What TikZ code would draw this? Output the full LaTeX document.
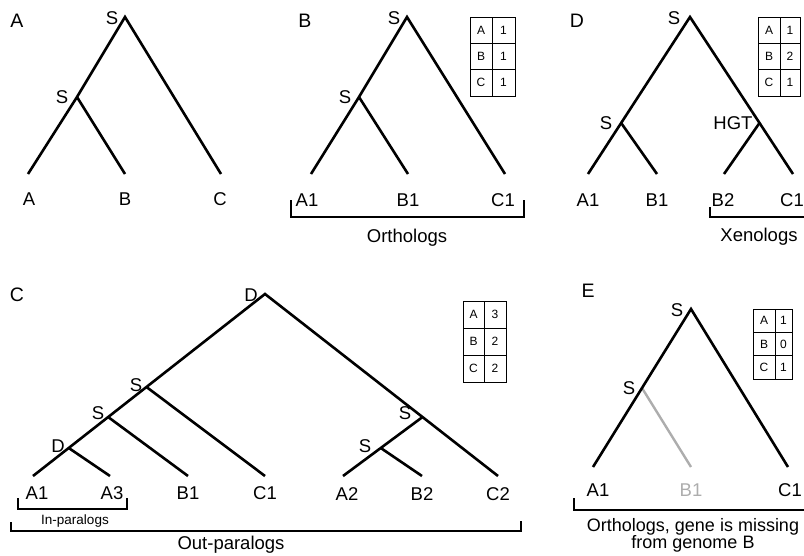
\documentclass[tikz,border=0pt]{standalone}
\usepackage{fontspec}
\setmainfont{Liberation Sans}
\usetikzlibrary{calc}
\definecolor{lostgray}{gray}{0.68}

% gene-count table: name, x0, y0, x divider, x1, y1, counts for A, B, C
\newcommand{\genecounts}[9]{%
  \draw[gridline] (#2,#3) rectangle (#5,#6);
  \draw[gridline] (#4,#3) -- (#4,#6);
  \draw[gridline] (#2,{#3+(#6-#3)/3}) -- (#5,{#3+(#6-#3)/3});
  \draw[gridline] (#2,{#3+2*(#6-#3)/3}) -- (#5,{#3+2*(#6-#3)/3});
  \node[cell] (#1-ka) at ({(#2+#4)/2},{#3+(#6-#3)/6}) {A};
  \node[cell] (#1-kb) at ({(#2+#4)/2},{#3+(#6-#3)/2}) {B};
  \node[cell] (#1-kc) at ({(#2+#4)/2},{#3+5*(#6-#3)/6}) {C};
  \node[cell] (#1-na) at ({(#4+#5)/2},{#3+(#6-#3)/6}) {#7};
  \node[cell] (#1-nb) at ({(#4+#5)/2},{#3+(#6-#3)/2}) {#8};
  \node[cell] (#1-nc) at ({(#4+#5)/2},{#3+5*(#6-#3)/6}) {#9};
}

\begin{document}
\begin{tikzpicture}[x=1pt,y=-1pt,
  branch/.style={line width=2.6pt},
  lostbranch/.style={line width=2.4pt, draw=lostgray},
  bracket/.style={line width=2.2pt},
  gridline/.style={line width=0.8pt},
  lbl/.style={font=\fontsize{18.5}{21}\selectfont, inner sep=0pt},
  panel/.style={font=\fontsize{19.5}{22}\selectfont, inner sep=0pt},
  small/.style={font=\fontsize{13.5}{16}\selectfont, inner sep=0pt},
  cell/.style={font=\fontsize{12}{14}\selectfont, inner sep=0pt}]
\useasboundingbox (0,0) rectangle (804,555);

% ---------------- panel A: species tree ----------------
\node[panel] (pA) at (17,21) {A};
\coordinate (A-r) at (125,17);
\coordinate (A-s) at (77,97);
\coordinate (A-a) at (28,174);
\coordinate (A-b) at (125,174);
\coordinate (A-c) at (221,174);
\draw[branch] (A-a) -- (A-s) -- (A-r) -- (A-c);
\draw[branch] (A-s) -- (A-b);
\node[lbl] (A-rl) at (112,18) {S};
\node[lbl] (A-sl) at (62,97) {S};
\node[lbl] (A-al) at (29,199) {A};
\node[lbl] (A-bl) at (125,199) {B};
\node[lbl] (A-cl) at (220,199) {C};

% ---------------- panel B: orthologs ----------------
\node[panel] (pB) at (305,21) {B};
\coordinate (B-r) at (407,17);
\coordinate (B-s) at (359,97);
\coordinate (B-a) at (311,174);
\coordinate (B-b) at (408,174);
\coordinate (B-c) at (505,174);
\draw[branch] (B-a) -- (B-s) -- (B-r) -- (B-c);
\draw[branch] (B-s) -- (B-b);
\node[lbl] (B-rl) at (394,18) {S};
\node[lbl] (B-sl) at (345,97) {S};
\node[lbl] (B-al) at (307,200) {A1};
\node[lbl] (B-bl) at (408,200) {B1};
\node[lbl] (B-cl) at (503,200) {C1};
\coordinate (B-k1) at (291,200);
\coordinate (B-k2) at (291,217);
\coordinate (B-k3) at (524,217);
\coordinate (B-k4) at (524,200);
\draw[bracket] (B-k1) -- (B-k2) -- (B-k3) -- (B-k4);
\node[lbl] (B-txt) at (407,238) {Orthologs};
\genecounts{B}{470}{17}{492}{515}{96}{1}{1}{1}

% ---------------- panel D: xenologs ----------------
\node[panel] (pD) at (577,21) {D};
\coordinate (D-r) at (690,17);
\coordinate (D-a) at (588,174);
\coordinate (D-c) at (793,174);
\coordinate (D-s) at ($(D-r)!0.675!(D-a)$);
\coordinate (D-h) at ($(D-r)!0.675!(D-c)$);
\coordinate (D-b1) at (657,174);
\coordinate (D-b2) at (724,174);
\draw[branch] (D-a) -- (D-r) -- (D-c);
\draw[branch] (D-s) -- (D-b1);
\draw[branch] (D-h) -- (D-b2);
\node[lbl] (D-rl) at (674,18) {S};
\node[lbl] (D-sl) at (606,123) {S};
\node[lbl] (D-hl) at (733,123) {HGT};
\node[lbl] (D-al) at (588,200) {A1};
\node[lbl] (D-b1l) at (657,200) {B1};
\node[lbl] (D-b2l) at (723,200) {B2};
\node[lbl] (D-cl) at (792,200) {C1};
\coordinate (D-k1) at (710,207);
\coordinate (D-k2) at (710,217);
\coordinate (D-k3) at (806,217);
\draw[bracket] (D-k1) -- (D-k2) -- (D-k3);
\node[lbl] (D-txt) at (759,237) {Xenologs};
\genecounts{D}{758}{17}{780}{800}{96}{1}{2}{1}

% ---------------- panel C: in- and out-paralogs ----------------
\node[panel] (pC) at (17,295) {C};
\coordinate (C-r) at (265,294);
\coordinate (C-a1) at (33,476);
\coordinate (C-c2) at (498,476);
\coordinate (C-s1) at ($(C-r)!0.511!(C-a1)$);
\coordinate (C-s2) at ($(C-r)!0.676!(C-a1)$);
\coordinate (C-d2) at ($(C-r)!0.846!(C-a1)$);
\coordinate (C-a3) at (110,476);
\coordinate (C-b1) at (188,476);
\coordinate (C-c1) at (265,476);
\coordinate (C-s3) at ($(C-r)!0.676!(C-c2)$);
\coordinate (C-a2) at (343,476);
\coordinate (C-b2) at (422,476);
\coordinate (C-s4) at ($(C-s3)!0.525!(C-a2)$);
\draw[branch] (C-a1) -- (C-r) -- (C-c2);
\draw[branch] (C-s1) -- (C-c1);
\draw[branch] (C-s2) -- (C-b1);
\draw[branch] (C-d2) -- (C-a3);
\draw[branch] (C-s3) -- (C-a2);
\draw[branch] (C-s4) -- (C-b2);
\node[lbl] (C-rl) at (251,295) {D};
\node[lbl] (C-s1l) at (136,385) {S};
\node[lbl] (C-s2l) at (98,413) {S};
\node[lbl] (C-d2l) at (58,446) {D};
\node[lbl] (C-s3l) at (405,413) {S};
\node[lbl] (C-s4l) at (365,446) {S};
\node[lbl] (C-a1l) at (37,493) {A1};
\node[lbl] (C-a3l) at (112,493) {A3};
\node[lbl] (C-b1l) at (188,493) {B1};
\node[lbl] (C-c1l) at (265,493) {C1};
\node[lbl] (C-a2l) at (347,494) {A2};
\node[lbl] (C-b2l) at (422,494) {B2};
\node[lbl] (C-c2l) at (498,494) {C2};
\coordinate (C-i1) at (18,498);
\coordinate (C-i2) at (18,509);
\coordinate (C-i3) at (127,509);
\coordinate (C-i4) at (127,498);
\draw[bracket] (C-i1) -- (C-i2) -- (C-i3) -- (C-i4);
\node[small] (C-itxt) at (75,521) {In-paralogs};
\coordinate (C-o1) at (11,522);
\coordinate (C-o2) at (11,531);
\coordinate (C-o3) at (521,531);
\coordinate (C-o4) at (521,521);
\draw[bracket] (C-o1) -- (C-o2) -- (C-o3) -- (C-o4);
\node[lbl] (C-otxt) at (231,545) {Out-paralogs};
\genecounts{C}{463}{301}{484}{506}{382}{3}{2}{2}

% ---------------- panel E: gene loss ----------------
\node[panel] (pE) at (588,291) {E};
\coordinate (E-r) at (691,309);
\coordinate (E-a) at (593,467);
\coordinate (E-c) at (788,467);
\coordinate (E-s) at ($(E-r)!0.5!(E-a)$);
\coordinate (E-b) at (691,467);
\draw[lostbranch] (E-s) -- (E-b);
\draw[branch] (E-a) -- (E-r) -- (E-c);
\node[lbl] (E-rl) at (677,310) {S};
\node[lbl] (E-sl) at (629,388) {S};
\node[lbl] (E-al) at (598,490) {A1};
\node[lbl, text=lostgray] (E-bl) at (691,490) {B1};
\node[lbl] (E-cl) at (790,490) {C1};
\coordinate (E-k1) at (574,498);
\coordinate (E-k2) at (574,510);
\coordinate (E-k3) at (806,510);
\draw[bracket] (E-k1) -- (E-k2) -- (E-k3);
\node[lbl, align=center, font=\fontsize{18}{17}\selectfont] (E-txt) at (693,535.5) {Orthologs, gene is missing\\from genome B};
\genecounts{E}{753}{309}{775}{792}{379}{1}{0}{1}
\end{tikzpicture}
\end{document}
